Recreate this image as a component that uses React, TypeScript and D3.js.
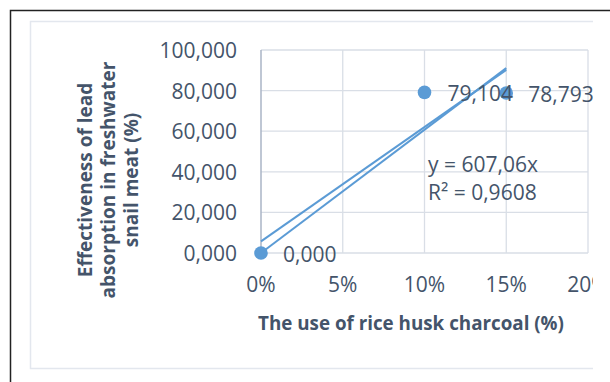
import React from "react";
import * as d3 from "d3";

const xValues = [0, 0.1, 0.15];
const yValues = [0, 79.104, 78.793];
const pointLabels = ["0,000", "79,104", "78,793"];
const xTicks = [0, 0.05, 0.1, 0.15, 0.2];
const yTicks = [0, 20, 40, 60, 80, 100];
const equationLines = ["y = 607,06x", "R² = 0,9608"];
const throughOriginSlope = 607.06;
const yTitleLines = ["Effectiveness of lead", "absorption in freshwater", "snail meat (%)"];
const xTitle = "The use of rice husk charcoal (%)";

const W = 610;
const H = 382;
const plot = { left: 261, right: 588, top: 50, bottom: 253 };
const textColor = "#44546A";
const blue = "#5B9BD5";
const font = "'Open Sans', sans-serif";

export default function App() {
  const x = d3.scaleLinear().domain([0, 0.2]).range([plot.left, plot.right]);
  const y = d3.scaleLinear().domain([0, 100]).range([plot.bottom, plot.top]);
  const fmtY = (v: number) => d3.format(",.3f")(v).replace(".", ";").replace(/,/g, ".").replace(";", ",");
  const fmtX = (v: number) => `${Math.round(v * 100)}%`;

  // least-squares linear regression (with intercept)
  const mx = d3.mean(xValues)!;
  const my = d3.mean(yValues)!;
  let sxy = 0, sxx = 0;
  xValues.forEach((xv, i) => { sxy += (xv - mx) * (yValues[i] - my); sxx += (xv - mx) ** 2; });
  const slope = sxy / sxx;
  const intercept = my - slope * mx;
  const xMax = d3.max(xValues)!;
  const line = d3.line<[number, number]>().x(d => x(d[0])).y(d => y(d[1]));
  const trend1: [number, number][] = [[0, 0], [xMax, throughOriginSlope * xMax]];
  const trend2: [number, number][] = [[0, intercept], [xMax, intercept + slope * xMax]];

  const labelOffsets = [22, 23, 22];

  return (
    <div style={{ position: "absolute", left: 0, top: 0 }}>
      <svg width={W} height={H} style={{ display: "block", background: "#fff" }}>
        <defs>
          <clipPath id="clip">
            <rect x={0} y={0} width={593} height={H} />
          </clipPath>
        </defs>
        {/* outer black frame */}
        <path d={`M${W} 10.5 H10.5 V${H}`} fill="none" stroke="#222" strokeWidth={1.5} />
        {/* inner chart frame */}
        <path d={`M593 21.5 H30.5 V368.5 H593`} fill="none" stroke="#E3E7EE" strokeWidth={1.5} />
        <g clipPath="url(#clip)" fontFamily={font}>
          {yTicks.map(t => (
            <line key={"h" + t} x1={plot.left} x2={plot.right} y1={y(t)} y2={y(t)} stroke="#D9DEE6" strokeWidth={1.3} />
          ))}
          {xTicks.filter(t => t > 0).map(t => (
            <line key={"v" + t} x1={x(t)} x2={x(t)} y1={plot.top} y2={plot.bottom} stroke="#D9DEE6" strokeWidth={1.3} />
          ))}
          <line x1={plot.left} x2={plot.left} y1={plot.top} y2={plot.bottom} stroke="#AAB4C6" strokeWidth={1.5} />
          {yTicks.map(t => (
            <text key={"yt" + t} x={237} y={y(t)} textAnchor="end" dominantBaseline="central" fontSize={21} fill={textColor}>
              {fmtY(t)}
            </text>
          ))}
          {xTicks.map(t => (
            <text key={"xt" + t} x={x(t)} y={284} textAnchor="middle" dominantBaseline="central" fontSize={21} fill={textColor}>
              {fmtX(t)}
            </text>
          ))}
          <path d={line(trend1)!} fill="none" stroke={blue} strokeWidth={2} />
          <path d={line(trend2)!} fill="none" stroke={blue} strokeWidth={2} />
          {xValues.map((xv, i) => (
            <circle key={"p" + i} cx={x(xv)} cy={y(yValues[i])} r={6.8} fill={blue} />
          ))}
          {xValues.map((xv, i) => (
            <text key={"l" + i} x={x(xv) + labelOffsets[i]} y={y(yValues[i]) + 1} dominantBaseline="central" fontSize={21} fill={textColor}>
              {pointLabels[i]}
            </text>
          ))}
          {equationLines.map((s, i) => (
            <text key={"eq" + i} x={428} y={164 + i * 28} dominantBaseline="central" fontSize={21} fill={textColor}>
              {s}
            </text>
          ))}
          <text x={411} y={323} textAnchor="middle" dominantBaseline="central" fontSize={18.8} fontWeight="bold" fill={textColor}>
            {xTitle}
          </text>
          <g transform="translate(108,180) rotate(-90)">
            {yTitleLines.map((s, i) => (
              <text key={"yl" + i} x={0} y={(i - 1) * 23} textAnchor="middle" dominantBaseline="central" fontSize={19} fontWeight="bold" fill={textColor}>
                {s}
              </text>
            ))}
          </g>
        </g>
      </svg>
    </div>
  );
}
